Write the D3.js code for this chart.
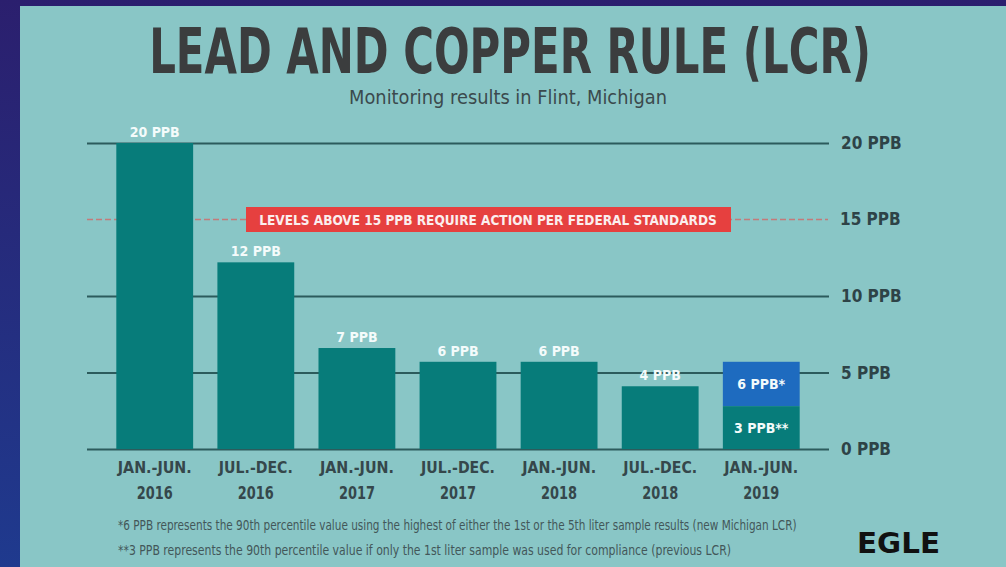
<!DOCTYPE html>
<html lang="en">
<head>
    <meta charset="UTF-8">
    <title>Lead and Copper Rule (LCR)</title>
    <script src="https://d3js.org/d3.v7.min.js"></script>
    <style>
        body, html {
            margin: 0;
            padding: 0;
            width: 100%;
            height: 100%;
            overflow: hidden;
        }
        text {
            font-family: "DejaVu Sans Condensed", "DejaVu Sans", sans-serif;
        }
    </style>
</head>
<body>
    <div id="chart"></div>
    <script>
        // data
        var periods = ["JAN.-JUN.", "JUL.-DEC.", "JAN.-JUN.", "JUL.-DEC.", "JAN.-JUN.", "JUL.-DEC.", "JAN.-JUN."];
        var years = ["2016", "2016", "2017", "2017", "2018", "2018", "2019"];
        var leadValues = [20, 12.2, 6.6, 5.7, 5.7, 4.1];
        var leadLabels = ["20 PPB", "12 PPB", "7 PPB", "6 PPB", "6 PPB", "4 PPB"];
        // last period split in two: previous LCR (1st liter) and new Michigan LCR
        var lastPrevious = 2.8;
        var lastNew = 5.7;
        var lastLabels = ["3 PPB**", "6 PPB*"];
        var yTicks = [0, 5, 10, 15, 20];
        var actionLevel = 15;
        var footnotes = [
            "*6 PPB represents the 90th percentile value using the highest of either the 1st or the 5th liter sample results (new Michigan LCR)",
            "**3 PPB represents the 90th percentile value if only the 1st liter sample was used for compliance (previous LCR)"
        ];

        var W = 1006, H = 567;
        var svg = d3.select("#chart").append("svg")
            .attr("width", W)
            .attr("height", H);

        // squeeze a text horizontally so it spans `width` px (condensed poster look)
        function squeezed(parent, str, x, y, width, anchor) {
            var g = parent.append("g");
            var t = g.append("text").attr("text-anchor", anchor || "start").text(str);
            return {
                g: g, t: t,
                fit: function() {
                    var k = width / t.node().getComputedTextLength();
                    g.attr("transform", "translate(" + x + "," + y + ") scale(" + k + ",1)");
                    return t;
                }
            };
        }

        // dark backdrop + teal panel
        var defs = svg.append("defs");
        var grad = defs.append("linearGradient").attr("id", "bg")
            .attr("x1", 0).attr("y1", 0).attr("x2", 0).attr("y2", 1);
        grad.append("stop").attr("offset", "0%").attr("stop-color", "#2b1f6e");
        grad.append("stop").attr("offset", "100%").attr("stop-color", "#1f3a8e");
        svg.append("rect").attr("width", W).attr("height", H).attr("fill", "url(#bg)");
        svg.append("rect").attr("x", 20).attr("y", 6).attr("width", W - 20).attr("height", H - 6)
            .attr("fill", "#89c6c6");

        var x = d3.scaleBand()
            .domain(d3.range(periods.length))
            .range([87, 829])
            .paddingInner(0.24)
            .paddingOuter(0.29);

        var y = d3.scaleLinear()
            .domain([0, 20])
            .range([449, 143]);

        // gridlines + labels on the right
        var yAxis = d3.axisRight(y)
            .tickValues(yTicks.filter(d => d !== actionLevel))
            .tickSize(x.range()[1] - x.range()[0])
            .tickFormat(d => d + " PPB");
        var ga = svg.append("g")
            .attr("transform", "translate(" + x.range()[0] + ",0)")
            .call(yAxis);
        ga.select(".domain").remove();
        ga.selectAll(".tick line").attr("stroke", "#2c5b5c").attr("stroke-width", 2);
        ga.selectAll(".tick text")
            .attr("x", x.range()[1] - x.range()[0] + 12)
            .attr("dy", "0.35em")
            .attr("fill", "#2e4347")
            .attr("font-size", 17)
            .attr("font-weight", "bold")
            .attr("font-family", "\"DejaVu Sans Condensed\", sans-serif");

        // action level dashed line
        svg.append("line")
            .attr("x1", x.range()[0]).attr("x2", x.range()[1] - 1)
            .attr("y1", y(actionLevel)).attr("y2", y(actionLevel))
            .attr("stroke", "#c47a7a")
            .attr("stroke-width", 1.3)
            .attr("stroke-dasharray", "6,3");
        svg.append("text")
            .attr("x", 840).attr("y", y(actionLevel))
            .attr("dy", "0.35em")
            .attr("fill", "#2e4347")
            .attr("font-size", 17)
            .attr("font-weight", "bold")
            .text(actionLevel + " PPB");

        // bars
        svg.selectAll("rect.bar")
            .data(leadValues)
            .enter().append("rect")
            .attr("class", "bar")
            .attr("x", (d, i) => x(i))
            .attr("y", d => y(d))
            .attr("width", x.bandwidth())
            .attr("height", d => y(0) - y(d))
            .attr("fill", "#077c7a");

        svg.selectAll("text.val")
            .data(leadValues)
            .enter().append("text")
            .attr("class", "val")
            .attr("x", (d, i) => x(i) + x.bandwidth() / 2)
            .attr("y", d => y(d) - 6)
            .attr("text-anchor", "middle")
            .attr("fill", "#f4fbfb")
            .attr("font-size", 14)
            .attr("font-weight", "bold")
            .text((d, i) => leadLabels[i]);

        // last period, stacked
        var li = periods.length - 1;
        svg.append("rect")
            .attr("x", x(li)).attr("y", y(lastNew))
            .attr("width", x.bandwidth())
            .attr("height", y(lastPrevious) - y(lastNew))
            .attr("fill", "#1e6bbf");
        svg.append("rect")
            .attr("x", x(li)).attr("y", y(lastPrevious))
            .attr("width", x.bandwidth())
            .attr("height", y(0) - y(lastPrevious))
            .attr("fill", "#077c7a");
        svg.append("text")
            .attr("x", x(li) + x.bandwidth() / 2)
            .attr("y", (y(lastNew) + y(lastPrevious)) / 2 + 5)
            .attr("text-anchor", "middle")
            .attr("fill", "#f4fbfb").attr("font-size", 14).attr("font-weight", "bold")
            .text(lastLabels[1]);
        svg.append("text")
            .attr("x", x(li) + x.bandwidth() / 2)
            .attr("y", (y(lastPrevious) + y(0)) / 2 + 5)
            .attr("text-anchor", "middle")
            .attr("fill", "#f4fbfb").attr("font-size", 14).attr("font-weight", "bold")
            .text(lastLabels[0]);

        // red banner
        svg.append("rect")
            .attr("x", 246).attr("y", y(actionLevel) - 12.5)
            .attr("width", 485).attr("height", 25)
            .attr("fill", "#e6403f");
        var banner = squeezed(svg, "LEVELS ABOVE 15 PPB REQUIRE ACTION PER FEDERAL STANDARDS",
            488, y(actionLevel) + 5, 458, "middle");
        banner.t.attr("fill", "#fbeeee").attr("font-size", 14).attr("font-weight", "bold");
        banner.fit();

        // category labels
        periods.forEach(function(p, i) {
            var cx = x(i) + x.bandwidth() / 2;
            var a = squeezed(svg, p, cx, 473, 74, "middle");
            a.t.attr("fill", "#35474b").attr("font-size", 15).attr("font-weight", "bold");
            a.fit();
            var b = squeezed(svg, years[i], cx, 499, 36, "middle");
            b.t.attr("fill", "#35474b").attr("font-size", 17).attr("font-weight", "bold");
            b.fit();
        });

        // title
        var title = squeezed(svg, "LEAD AND COPPER RULE (LCR)", 510, 73, 722, "middle");
        title.t.attr("fill", "#3b3d3e").attr("font-size", 62).attr("font-weight", "bold");
        title.fit();
        var sub = squeezed(svg, "Monitoring results in Flint, Michigan", 508, 104, 318, "middle");
        sub.t.attr("fill", "#3b4a4d").attr("font-size", 19);
        sub.fit();

        // footnotes
        footnotes.forEach(function(f, i) {
            var n = squeezed(svg, f, 118, 530 + i * 25, i === 0 ? 679 : 614, "start");
            n.t.attr("fill", "#435759").attr("font-size", 14);
            n.fit();
        });

        // logo
        var logo = squeezed(svg, "EGLE", 857, 553, 83, "start");
        logo.t.attr("fill", "#111").attr("font-size", 28).attr("font-weight", "bold")
            .attr("font-family", "\"DejaVu Sans\", sans-serif");
        logo.fit();
    </script>
</body>
</html>
